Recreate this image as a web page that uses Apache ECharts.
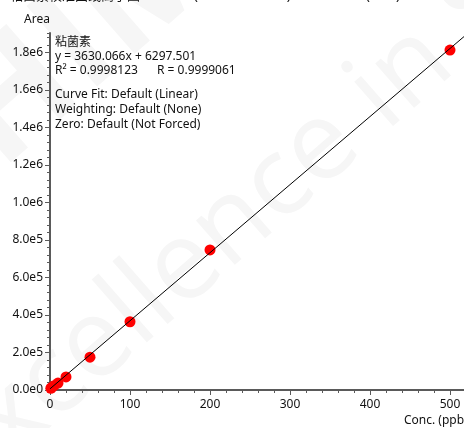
<!DOCTYPE html>
<html>
<head>
<meta charset="utf-8">
<script src="https://cdn.jsdelivr.net/npm/echarts@6/dist/echarts.min.js"></script>
<style>
html,body{margin:0;padding:0;background:#fff;}
#chart{width:464px;height:428px;}
</style>
</head>
<body>
<div id="chart"></div>
<script>
// Data
const concentrations = [1, 2, 5, 10, 20, 50, 100, 200, 500];      // ppb
const areas = [9000, 13000, 23000, 37000, 70000, 175000, 364000, 747000, 1813000];
const fitX = [0, 517.5];                 // regression line ends (y = 3630.066x + 6297.501)
const fitY = [6297.5, 1884856.7];
const yMajorTicks = [0, 200000, 400000, 600000, 800000, 1000000, 1200000, 1400000, 1600000, 1800000];
const xMax = 517.5, yMax = 1904000;
const annoLines = ['粘菌素', 'y = 3630.066x + 6297.501', 'R² = 0.9998123', 'R = 0.9999061',
  'Curve Fit: Default (Linear)', 'Weighting: Default (None)', 'Zero: Default (Not Forced)'];

const FONT = '"Noto Sans", "Noto Sans CJK SC", sans-serif';
const chart = echarts.init(document.getElementById('chart'), null, {renderer: 'canvas'});
const axisCol = '#5a5a5a';
const fmt = v => v.toExponential(1).replace('+', '');

const txt = (x, y, s) => ({
  type: 'text', x: x, y: y, z: 100,
  style: {text: s, fill: '#111', font: '12px ' + FONT, textVerticalAlign: 'middle'}
});

chart.setOption({
  animation: false,
  backgroundColor: '#fff',
  grid: {left: 50, right: 0, top: 33, bottom: 38},
  xAxis: {
    type: 'value', min: 0, max: xMax, interval: 100,
    axisLine: {lineStyle: {color: axisCol, width: 2}},
    axisTick: {show: true, length: 5, lineStyle: {color: axisCol}},
    minorTick: {show: true, splitNumber: 5, length: 3, lineStyle: {color: axisCol}},
    splitLine: {show: false},
    axisLabel: {color: '#111', fontSize: 12, fontFamily: FONT, margin: 9, showMaxLabel: false}
  },
  yAxis: [{
    type: 'value', min: 0, max: yMax,
    axisLine: {show: true, lineStyle: {color: axisCol, width: 2}},
    axisTick: {show: true, length: 5, lineStyle: {color: axisCol}, customValues: yMajorTicks},
    splitLine: {show: false},
    axisLabel: {color: '#111', fontSize: 12, fontFamily: FONT, margin: 7, customValues: yMajorTicks, formatter: fmt}
  }, {
    type: 'value', min: 0, max: yMax, interval: 40000, position: 'left', offset: 0,
    axisLine: {show: false},
    axisTick: {show: true, length: 3, lineStyle: {color: axisCol}},
    axisLabel: {show: false},
    splitLine: {show: false}
  }],
  series: [{
    type: 'line', data: fitX.map((x, i) => [x, fitY[i]]),
    showSymbol: false, symbol: 'none', lineStyle: {color: '#000', width: 1}, z: 3, silent: true
  }, {
    type: 'scatter', data: concentrations.map((c, i) => [c, areas[i]]),
    symbolSize: 11, itemStyle: {color: '#ff0000', opacity: 1}, z: 2
  }],
  graphic: [
    // faint watermark
    {type: 'text', x: -20, y: 520, rotation: 0.72, z: -10, silent: true,
     style: {text: 'Excellence in Science', fill: '#f6f6f6', font: '110px "Open Sans", sans-serif', textVerticalAlign: 'bottom'}},
    {type: 'text', x: -40, y: 250, rotation: 0.72, z: -10, silent: true,
     style: {text: 'SHIMADZU', fill: '#f6f6f6', font: 'bold 150px "Open Sans", sans-serif', textVerticalAlign: 'bottom'}},
    // cut-off title at top
    {type: 'text', x: 10, y: -10, z: 100, style: {text: '粘菌素校准曲线离子图', fill: '#111', font: '13px ' + FONT}},
    {type: 'text', x: 194, y: -10, z: 100, style: {text: '(578.40>101.10)', fill: '#111', font: '13px ' + FONT}},
    {type: 'text', x: 366, y: -10, z: 100, style: {text: '(+ESI)', fill: '#111', font: '13px ' + FONT}},
    // axis names
    txt(24, 20, 'Area'),
    txt(404, 421, 'Conc. (ppb)'),
    // annotation
    txt(55, 42.5, annoLines[0]),
    txt(55, 57, annoLines[1]),
    txt(55, 71, annoLines[2]),
    txt(157, 71, annoLines[3]),
    txt(55, 95, annoLines[4]),
    txt(55, 109.5, annoLines[5]),
    txt(55, 124.5, annoLines[6])
  ]
});
</script>
</body>
</html>
